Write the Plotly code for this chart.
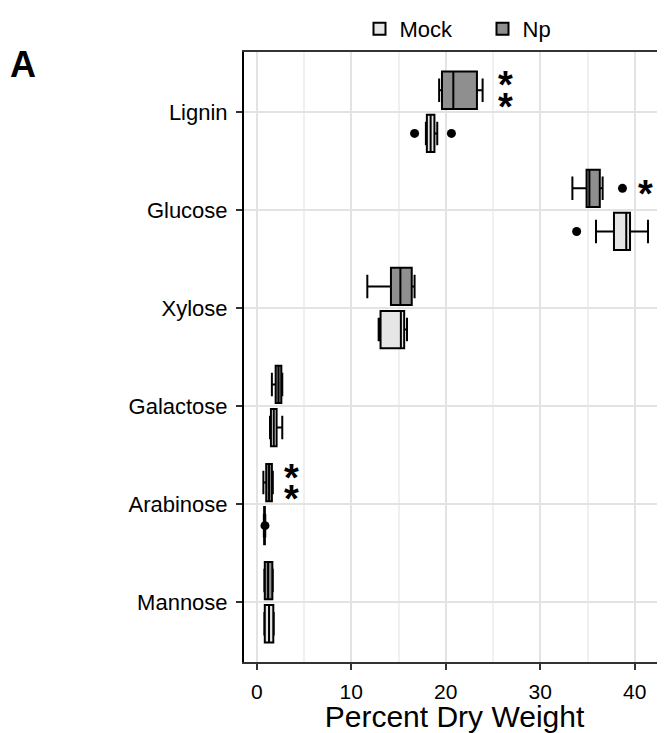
import plotly.graph_objects as go

# ---------------- data ----------------
categories = ['Lignin', 'Glucose', 'Xylose', 'Galactose', 'Arabinose', 'Mannose']

# Np (treated) box statistics, percent dry weight
np_lowerfence = [19.3, 33.4, 11.7, 1.6, 0.7, 0.8]
np_q1         = [19.6, 34.9, 14.2, 2.0, 1.0, 0.85]
np_median     = [20.8, 35.2, 15.2, 2.3, 1.3, 1.2]
np_q3         = [23.3, 36.3, 16.4, 2.6, 1.6, 1.65]
np_upperfence = [23.9, 36.6, 16.7, 2.7, 1.7, 1.7]

# Mock box statistics
mock_lowerfence = [17.9, 35.9, 12.9, 1.4, 0.75, 0.8]
mock_q1         = [18.0, 37.8, 13.1, 1.5, 0.78, 0.85]
mock_median     = [18.4, 39.1, 15.25, 1.8, 0.82, 1.3]
mock_q3         = [18.8, 39.5, 15.6, 2.1, 0.86, 1.75]
mock_upperfence = [19.1, 41.4, 15.9, 2.7, 0.9, 1.8]

# outliers
np_outlier_cat = ['Glucose']
np_outlier_val = [38.7]
mock_outlier_cat = ['Lignin', 'Lignin', 'Glucose', 'Arabinose']
mock_outlier_val = [16.7, 20.6, 33.85, 0.87]

# significance marks (on Np vs Mock)
sig_cat = ['Lignin', 'Glucose', 'Arabinose']
sig_stars = [2, 1, 2]
sig_x = [26.3, 41.1, 3.7]

x_tickvals = [0, 10, 20, 30, 40]

# ---------------- layout helpers ----------------
n = len(categories)
pos = {c: n - 1 - i for i, c in enumerate(categories)}   # Lignin at top
dodge = 0.22
bw = 0.38

FONT = 'Liberation Sans, Arial, sans-serif'
np_fill = '#8f8f8f'
mock_fill = '#e6e6e6'

fig = go.Figure()

fig.add_trace(go.Box(
    name='Mock', orientation='h',
    y=[pos[c] - dodge for c in categories],
    q1=mock_q1, median=mock_median, q3=mock_q3,
    lowerfence=mock_lowerfence, upperfence=mock_upperfence,
    width=bw, whiskerwidth=0.63, boxpoints=False,
    fillcolor=mock_fill, line=dict(color='black', width=2),
))
fig.add_trace(go.Box(
    name='Np', orientation='h',
    y=[pos[c] + dodge for c in categories],
    q1=np_q1, median=np_median, q3=np_q3,
    lowerfence=np_lowerfence, upperfence=np_upperfence,
    width=bw, whiskerwidth=0.63, boxpoints=False,
    fillcolor=np_fill, line=dict(color='black', width=2),
))

fig.add_trace(go.Scatter(
    x=mock_outlier_val, y=[pos[c] - dodge for c in mock_outlier_cat],
    mode='markers', marker=dict(color='black', size=9), showlegend=False,
))
fig.add_trace(go.Scatter(
    x=np_outlier_val, y=[pos[c] + dodge for c in np_outlier_cat],
    mode='markers', marker=dict(color='black', size=9), showlegend=False,
))

# significance asterisks
for c, k, xv in zip(sig_cat, sig_stars, sig_x):
    yc = pos[c] + dodge
    offs = [0.0] if k == 1 else [0.11, -0.11]
    for o in offs:
        fig.add_annotation(x=xv, y=yc + o, text='<b>*</b>', showarrow=False,
                           xanchor='center', yanchor='middle', yshift=-6,
                           font=dict(family=FONT, size=38, color='black'))

# panel label
fig.add_annotation(xref='paper', yref='paper', x=-0.525, y=1.0, text='<b>A</b>',
                   showarrow=False, xanchor='center', yanchor='top', yshift=10,
                   font=dict(family=FONT, size=36, color='black'))

fig.update_layout(
    width=657, height=725,
    margin=dict(l=236, r=0, t=42, b=71),
    paper_bgcolor='white', plot_bgcolor='white',
    font=dict(family=FONT, size=22, color='black'),
    boxmode='overlay',
    legend=dict(orientation='h', xref='container', yref='container',
                x=0.535, y=1.0, xanchor='left', yanchor='top',
                font=dict(size=22), itemwidth=30, entrywidth=78,
                tracegroupgap=0),
    xaxis=dict(range=[-1.35, 43.2], tickvals=x_tickvals, showgrid=True,
               gridcolor='#e3e3e3', gridwidth=2,
               minor=dict(dtick=5, tick0=0, showgrid=True, gridcolor='#f0f0f0', gridwidth=2),
               showline=True, linecolor='#333333', linewidth=2, mirror=True,
               ticks='outside', ticklen=6, tickwidth=2, tickcolor='#333333',
               ticklabelstandoff=4,
               tickfont=dict(size=21, color='black'), zeroline=False,
               title=dict(text='Percent Dry Weight', font=dict(size=30), standoff=5)),
    yaxis=dict(range=[-0.61, 5.61], tickvals=[pos[c] for c in categories],
               ticktext=categories, showgrid=True, gridcolor='#e3e3e3', gridwidth=2,
               showline=True, linecolor='black', linewidth=2,
               ticks='outside', ticklen=6, tickwidth=2, tickcolor='#333333',
               ticklabelstandoff=4,
               tickfont=dict(size=22, color='black'), zeroline=False),
)

fig.write_html('out.html')
